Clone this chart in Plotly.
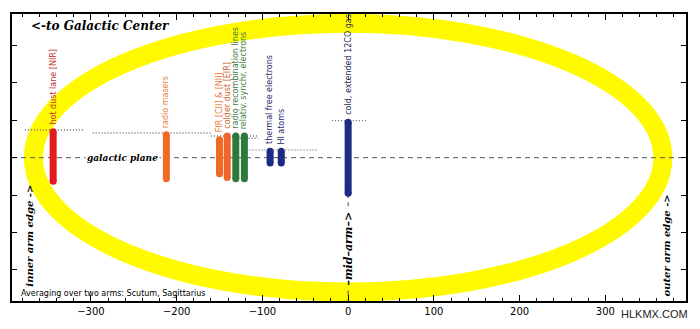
import plotly.graph_objects as go

# Tracers of spiral-arm structure, their offset across the arm and vertical extent
tracers = [
    "hot dust lane [NIR]", "radio masers", "FIR [CII] & [NII]", "colder dust [EIR]",
    "radio recombination lines", "relativ. synchr. electrons",
    "thermal free electrons", "HI atoms", "cold, extended 12CO gas",
]
offsets = [-344, -212, -150, -141, -131, -121, -91, -78, 0]
upper = [0.69, 0.61, 0.48, 0.58, 0.58, 0.58, 0.17, 0.17, 0.95]
lower = [-0.63, -0.56, -0.43, -0.53, -0.56, -0.56, -0.14, -0.14, -0.95]
bar_colors = ["#E31B1E", "#F06A24", "#F06A24", "#EE6528", "#2E7A3C", "#2E7A3C",
              "#1C2C86", "#1C2C86", "#1C2C86"]
label_colors = ["#C4302A", "#E27F3E", "#EC7833", "#C7642C", "#3A7D3E", "#3A7D3E",
                "#1F2D6E", "#1F2D6E", "#1C2550"]

# Dotted extent markers (start, end, level)
dot_start = [-377, -298, -160, -130, -115, -19]
dot_end = [-307, -160, -105, -105, -36, 22]
dot_level = [0.74, 0.66, 0.58, 0.52, 0.21, 0.99]

# Arm outline (ellipse semi-axes)
arm_half_width = 367
arm_half_height = 3.59

# Span of the "mid-arm" caption along the centre line
mid_label_top = -1.30
mid_label_bottom = -3.55

x_range = [-392, 394]
y_range = [-3.83, 3.84]

fig = go.Figure()

# Yellow arm outline
fig.add_shape(type="circle", xref="x", yref="y",
              x0=-arm_half_width, x1=arm_half_width,
              y0=-arm_half_height, y1=arm_half_height,
              line=dict(color="#FFFA00", width=19), layer="below")

# Galactic plane and mid-arm guide lines
guide = dict(color="#555555", width=1, dash="5px,4px")
fig.add_shape(type="line", xref="x", yref="y", x0=x_range[0], x1=x_range[1], y0=0, y1=0,
              line=guide, layer="below")
fig.add_shape(type="line", xref="x", yref="y", x0=0, x1=0, y0=lower[-1], y1=mid_label_top,
              line=guide, layer="below")
fig.add_shape(type="line", xref="x", yref="y", x0=0, x1=0, y0=mid_label_bottom, y1=y_range[0],
              line=guide, layer="below")

# Dotted extents
for x0, x1, yv in zip(dot_start, dot_end, dot_level):
    fig.add_trace(go.Scatter(x=[x0, x1], y=[yv, yv], mode="lines",
                             line=dict(color="#6F6F6F", width=1.3, dash="1px,2px"),
                             hoverinfo="skip", showlegend=False))

# Vertical tracer bars with rounded ends
for name, xv, top, bot, col, lcol in zip(tracers, offsets, upper, lower, bar_colors, label_colors):
    fig.add_trace(go.Scatter(x=[xv, xv], y=[bot, top], mode="lines+markers",
                             line=dict(color=col, width=7),
                             marker=dict(color=col, size=7, line=dict(width=0)),
                             name=name, showlegend=False))
    fig.add_annotation(x=xv, y=top, xref="x", yref="y", text=name, showarrow=False,
                       textangle=-90, xanchor="center", yanchor="bottom", yshift=5,
                       font=dict(family="DejaVu Sans", size=8, color=lcol))

bold_italic = dict(family="DejaVu Serif", weight="bold", style="italic", color="black")

fig.add_annotation(x=-372, y=3.53, text="<-to Galactic Center", showarrow=False,
                   xanchor="left", yanchor="middle", font=dict(bold_italic, size=12))
fig.add_annotation(x=-263, y=0, text="galactic plane", showarrow=False,
                   xanchor="center", yanchor="middle", bgcolor="white",
                   font=dict(bold_italic, size=9))
fig.add_annotation(x=-372, y=-2.08, text="inner arm edge ->", showarrow=False,
                   textangle=-90, xanchor="center", yanchor="middle",
                   font=dict(bold_italic, size=10))
fig.add_annotation(x=371, y=-2.34, text="outer arm edge ->", showarrow=False,
                   textangle=-90, xanchor="center", yanchor="middle",
                   font=dict(bold_italic, size=10))
fig.add_annotation(x=0, y=(mid_label_top + mid_label_bottom) / 2, text="–mid–arm–>",
                   showarrow=False, textangle=-90, xanchor="center", yanchor="middle",
                   font=dict(bold_italic, size=11))
fig.add_annotation(x=-384, y=-3.62, text="Averaging over two arms: Scutum, Sagittarius",
                   showarrow=False, xanchor="left", yanchor="middle",
                   font=dict(family="DejaVu Sans", size=8, color="black"))
fig.add_annotation(xref="paper", yref="paper", x=1.006, y=-0.045, text="HLKMX.COM",
                   showarrow=False, xanchor="right", yanchor="middle",
                   font=dict(family="Liberation Sans", size=11, color="#222222"))

axis_common = dict(showline=True, linecolor="black", linewidth=1.5, mirror="ticks",
                   ticks="inside", tickcolor="black", showgrid=False, zeroline=False)

fig.update_xaxes(range=x_range, tick0=0, dtick=100, ticklen=6, tickwidth=1,
                 minor=dict(dtick=20, ticklen=3, ticks="inside", tickcolor="black"),
                 tickfont=dict(family="DejaVu Sans", size=10, color="black"),
                 **axis_common)
fig.update_yaxes(range=y_range, tick0=0, dtick=1, ticklen=5, tickwidth=1,
                 showticklabels=False, **axis_common)

fig.update_layout(width=700, height=329, margin=dict(l=12, r=12, t=12, b=22),
                  plot_bgcolor="white", paper_bgcolor="white", showlegend=False)

fig.write_html("out.html")
